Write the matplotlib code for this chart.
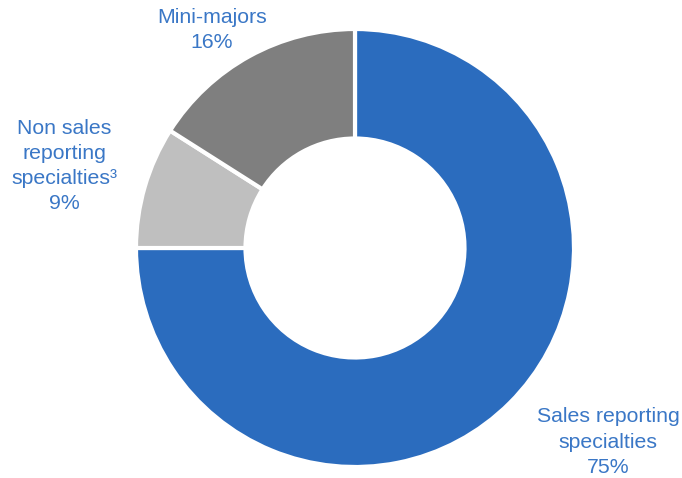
import matplotlib
matplotlib.use("Agg")
import matplotlib.pyplot as plt

categories = ["Sales reporting\nspecialties", "Non sales\nreporting\nspecialties³", "Mini-majors"]
values = [75, 9, 16]
colors = ["#2B6CBE", "#BFBFBF", "#7F7F7F"]
text_color = "#3A77C6"

plt.rcParams['font.family'] = ['Liberation Sans', 'DejaVu Sans']

fig = plt.figure(figsize=(6.82, 4.78), dpi=100)
ax = fig.add_axes([136/682, 11/478, 438/682, 438/478])
ax.pie(values, colors=colors, startangle=90, counterclock=False,
       radius=1.0, wedgeprops=dict(width=0.5, edgecolor="white", linewidth=3))
ax.set_xlim(-1, 1)
ax.set_ylim(-1, 1)
ax.set_aspect("equal")
ax.axis("off")

label_pos = [(608/682, 1 - 442/478), (64/682, 1 - 166/478), (212/682, 1 - 30/478)]
for cat, v, (x, y) in zip(categories, values, label_pos):
    fig.text(x, y, f"{cat}\n{v}%", ha="center", va="center", color=text_color,
             fontsize=15.3, linespacing=1.42)

fig.savefig("out.png", dpi=100)
